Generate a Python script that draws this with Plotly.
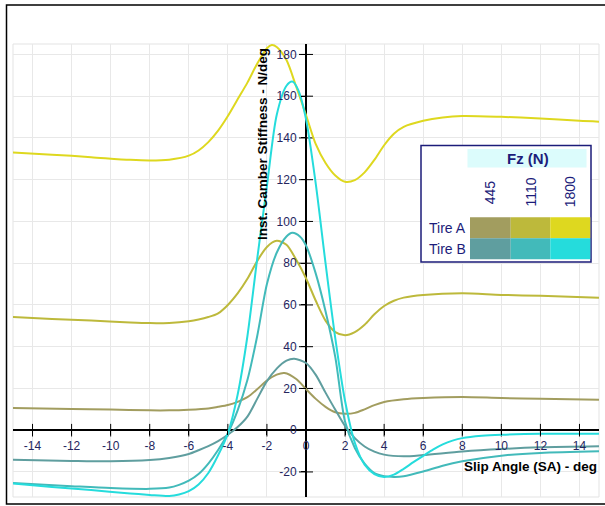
import plotly.graph_objects as go

# ---------------- data ----------------
x_tire_a_445 = [-15, -12, -10, -8, -7, -6, -5, -4.5, -4, -3.5, -3, -2.5, -2, -1.5, -1.1, -0.5, 0, 0.5, 1, 1.5, 2, 2.5, 3, 3.5, 4, 5, 6, 8, 10, 12, 15]
y_tire_a_445 = [10.6, 10.2, 9.9, 9.5, 9.5, 9.8, 10.4, 11.2, 12.1, 13.6, 15.8, 19.6, 23.8, 26.6, 27.4, 24.5, 19.7, 15, 11.2, 8.6, 7.9, 8.3, 10, 12, 13.5, 14.8, 15.4, 15.9, 15.4, 15.1, 14.6]

x_tire_a_1110 = [-15, -13, -11, -9, -8, -7, -6, -5.5, -5, -4.5, -4, -3.5, -3, -2.5, -2, -1.5, -1, -0.5, 0, 0.5, 1, 1.5, 2, 2.5, 3, 3.5, 4, 4.5, 5, 6, 8, 10, 12, 15]
y_tire_a_1110 = [54.2, 53.3, 52.5, 51.6, 51.3, 51.4, 52.2, 53, 54.2, 56, 60, 65.5, 72.5, 81, 87.8, 90.7, 88.8, 81.6, 72.8, 62, 52.5, 47, 45.5, 47, 50.5, 55.5, 59.5, 62, 63.5, 64.8, 65.6, 64.8, 64.4, 63.5]

x_tire_a_1800 = [-15, -13, -11, -9, -8, -7, -6, -5.5, -5, -4.5, -4, -3.5, -3, -2.5, -2, -1.75, -1.5, -1, -0.5, 0, 0.5, 1, 1.5, 2, 2.5, 3, 3.5, 4, 4.5, 5, 6, 7, 8, 10, 12, 14, 15]
y_tire_a_1800 = [133, 132, 130.8, 129.5, 129.2, 129.6, 131.5, 134, 138, 143.5, 150.5, 158.5, 166.5, 175.5, 183, 184.5, 183.6, 177.3, 164.5, 151, 137, 128, 122, 119, 119.8, 123.5, 129.5, 136.5, 142, 145.3, 148.2, 149.8, 150.5, 150.1, 149.3, 148.2, 147.8]

x_tire_b_445 = [-15, -12, -10, -8, -7, -6, -5.5, -5, -4.5, -4, -3.5, -3, -2.5, -2, -1.5, -1, -0.6, 0, 0.5, 1, 1.5, 2, 2.5, 3, 3.5, 4, 5, 6, 8, 10, 12, 15]
y_tire_b_445 = [-14.1, -14.7, -14.9, -14.3, -13.3, -11.4, -9.6, -7.6, -5.2, -2.2, 1.5, 6.5, 15, 23.5, 29.5, 33.3, 34.2, 32.2, 26.5, 18, 9.8, 2, -3.8, -7.8, -10.3, -11.7, -12.5, -11.9, -10.2, -9, -8.2, -7.7]

x_tire_b_1110 = [-15, -12, -10, -8, -7, -6.5, -6, -5.5, -5, -4.5, -4, -3.5, -3, -2.5, -2, -1.5, -1, -0.7, -0.3, 0, 0.5, 1, 1.5, 2, 2.5, 3, 3.5, 4, 4.5, 5, 6, 7, 8, 10, 12, 15]
y_tire_b_1110 = [-25.3, -26.8, -27.7, -28.1, -27.5, -26.2, -24.2, -21, -16, -9.5, -1.5, 9.5, 24, 45, 70, 85, 92.8, 94.6, 92.7, 88.5, 75, 57, 35, 4, -8.5, -16, -20.5, -22, -22.4, -22.1, -19.8, -17, -14.9, -12.2, -10.9, -10.1]

x_tire_b_1800 = [-15, -13, -11, -9, -8, -7, -6.5, -6, -5.5, -5, -4.5, -4, -3.5, -3, -2.5, -2, -1.5, -1, -0.7, -0.4, 0, 0.5, 1, 1.5, 2, 2.5, 3, 3.5, 4, 4.5, 5, 5.5, 6, 6.5, 7, 7.5, 8, 9, 10, 12, 15]
y_tire_b_1800 = [-25.5, -27.2, -28.7, -30.3, -31, -31.5, -30.8, -29.2, -26, -20.5, -12, -1.5, 17, 45, 82, 117, 151, 165, 167, 163, 149, 118, 80, 44, 14, -6, -16.5, -21, -22.4, -21.3, -18.5, -15.3, -12.3, -9.3, -6.8, -5, -3.8, -2.7, -2.2, -1.7, -1.7]

x_ticks = [-14, -12, -10, -8, -6, -4, -2, 0, 2, 4, 6, 8, 10, 12, 14]
y_ticks = [-20, 0, 20, 40, 60, 80, 100, 120, 140, 160, 180]

fz_labels = ["445", "1110", "1800"]
tire_labels = ["Tire A", "Tire B"]

# ---------------- styles ----------------
colors_a = ["#a29d5f", "#bdb93b", "#ded81f"]
colors_b = ["#5f9e9f", "#42baba", "#25dcdc"]

W, H = 605, 506
ML, MR, MT, MB = 13, 6, 44, 9
PW = W - ML - MR
PH = H - MT - MB
X_RANGE = [-15, 15]
Y_RANGE = [-32, 185]
NAVY = "#1c1c7a"
TICKC = "#25255e"
FONT = "Liberation Sans, Arial, sans-serif"


def pxx(xp):
    return (xp - ML) / PW


def pxy(yp):
    return (MT + PH - yp) / PH


fig = go.Figure()

# crossing tick marks on axes
fig.add_trace(go.Scatter(x=[v for v in x_ticks if v != 0], y=[0] * (len(x_ticks) - 1), mode="markers",
                         marker=dict(symbol="line-ns", size=9, line=dict(color="black", width=1)),
                         hoverinfo="skip", showlegend=False))
fig.add_trace(go.Scatter(x=[0] * (len(y_ticks) - 1), y=[v for v in y_ticks if v != 0], mode="markers",
                         marker=dict(symbol="line-ew", size=10, line=dict(color="black", width=1)),
                         hoverinfo="skip", showlegend=False))

series = [
    (x_tire_a_445, y_tire_a_445, colors_a[0]),
    (x_tire_a_1110, y_tire_a_1110, colors_a[1]),
    (x_tire_a_1800, y_tire_a_1800, colors_a[2]),
    (x_tire_b_445, y_tire_b_445, colors_b[0]),
    (x_tire_b_1110, y_tire_b_1110, colors_b[1]),
    (x_tire_b_1800, y_tire_b_1800, colors_b[2]),
]
for xs, ys, c in series:
    fig.add_trace(go.Scatter(x=xs, y=ys, mode="lines",
                             line=dict(color=c, width=2, shape="spline", smoothing=0.8),
                             showlegend=False, hoverinfo="skip"))

shapes = []
# outer frame
shapes.append(dict(type="rect", xref="paper", yref="paper", x0=pxx(6.5), x1=pxx(640), y0=pxy(504), y1=pxy(5),
                   line=dict(color="black", width=1.5), fillcolor="rgba(0,0,0,0)", layer="below"))
# plot area border
shapes.append(dict(type="rect", xref="paper", yref="paper", x0=0, x1=1, y0=0, y1=1,
                   line=dict(color="#e3e3e3", width=1), layer="below"))
# legend box
shapes.append(dict(type="rect", xref="paper", yref="paper", x0=pxx(421), x1=pxx(591), y0=pxy(262), y1=pxy(145.5),
                   line=dict(color=NAVY, width=1.5), fillcolor="white", layer="above"))
shapes.append(dict(type="rect", xref="paper", yref="paper", x0=pxx(467.5), x1=pxx(586.5), y0=pxy(167.5), y1=pxy(149),
                   line=dict(width=0), fillcolor="#dcfcfc", layer="above"))
col_edges = [470, 510.7, 550.3, 590.3]
row_edges = [217.3, 238.3, 259.3]
for r, row_colors in enumerate([colors_a, colors_b]):
    for c in range(3):
        shapes.append(dict(type="rect", xref="paper", yref="paper",
                           x0=pxx(col_edges[c]), x1=pxx(col_edges[c + 1]),
                           y0=pxy(row_edges[r + 1]), y1=pxy(row_edges[r]),
                           line=dict(width=0), fillcolor=row_colors[c], layer="above"))

annotations = []
annotations.append(dict(text="<b>Slip Angle (SA) - deg</b>", xref="paper", yref="paper",
                        x=pxx(599), y=pxy(466.5), xanchor="right", yanchor="middle", showarrow=False,
                        font=dict(family=FONT, size=13.5, color="black")))
annotations.append(dict(text="<b>Inst. Camber Stiffness - N/deg</b>", xref="paper", yref="paper",
                        x=pxx(262), y=pxy(144), xanchor="center", yanchor="middle", showarrow=False,
                        textangle=-90, font=dict(family=FONT, size=13.5, color="black")))
annotations.append(dict(text="<b>Fz (N)</b>", xref="paper", yref="paper",
                        x=pxx(528), y=pxy(158.5), xanchor="center", yanchor="middle", showarrow=False,
                        font=dict(family=FONT, size=15, color=NAVY)))
for c, lab in enumerate(fz_labels):
    cx = (col_edges[c] + col_edges[c + 1]) / 2
    annotations.append(dict(text=lab, xref="paper", yref="paper", x=pxx(cx), y=pxy(192),
                            xanchor="center", yanchor="middle", showarrow=False, textangle=-90,
                            font=dict(family=FONT, size=14, color=NAVY)))
for r, lab in enumerate(tire_labels):
    cy = (row_edges[r] + row_edges[r + 1]) / 2
    annotations.append(dict(text=lab, xref="paper", yref="paper", x=pxx(468), y=pxy(cy),
                            xanchor="right", yanchor="middle", showarrow=False,
                            font=dict(family=FONT, size=14, color=NAVY)))

fig.update_layout(
    width=W, height=H,
    margin=dict(l=ML, r=MR, t=MT, b=MB, pad=0),
    paper_bgcolor="white", plot_bgcolor="white",
    showlegend=False,
    shapes=shapes, annotations=annotations,
    xaxis=dict(range=X_RANGE, tickvals=x_ticks, ticktext=[str(v) for v in x_ticks],
               showgrid=True, gridcolor="#e8e8e8", gridwidth=1,
               zeroline=True, zerolinecolor="black", zerolinewidth=1.5,
               showline=False, anchor="free", position=(0 - Y_RANGE[0]) / (Y_RANGE[1] - Y_RANGE[0]),
               ticks="outside", ticklen=4, tickcolor="black", tickwidth=1,
               tickfont=dict(family=FONT, size=12, color=TICKC), fixedrange=True),
    yaxis=dict(range=Y_RANGE, tickvals=y_ticks, ticktext=[str(v) for v in y_ticks],
               showgrid=True, gridcolor="#e8e8e8", gridwidth=1,
               zeroline=True, zerolinecolor="black", zerolinewidth=1.5,
               showline=False, anchor="free", position=(0 - X_RANGE[0]) / (X_RANGE[1] - X_RANGE[0]),
               ticks="outside", ticklen=5, tickcolor="black", tickwidth=1, ticklabelstandoff=2,
               tickfont=dict(family=FONT, size=12, color=TICKC), fixedrange=True),
)

fig.write_html("out.html", config={"displayModeBar": False, "staticPlot": True},
               post_script="document.body.style.margin='0px';document.body.style.overflow='hidden';")
